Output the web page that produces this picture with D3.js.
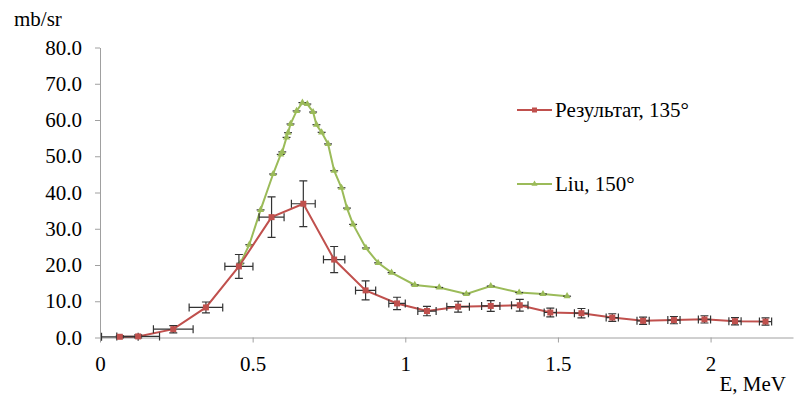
<!DOCTYPE html>
<html>
<head>
  <meta charset="UTF-8" />
  <title>Cross section vs E</title>
  <script src="https://d3js.org/d3.v7.min.js"></script>
  <style>
    body {
      margin: 0;
      background: #fff;
    }

    svg text {
      font-family: "Liberation Serif", "Times New Roman", Tinos, serif !important;
    }
  </style>
</head>
<body>
  <div id="chart"></div>
  <script>
    // Result, 135 deg (red) with errors
    const redE = [0.065, 0.125, 0.24, 0.347, 0.455, 0.562, 0.666, 0.767, 0.87, 0.973, 1.071,
      1.173, 1.28, 1.375, 1.475, 1.577, 1.678, 1.779, 1.88, 1.98, 2.08, 2.18];
    const redY = [0.2, 0.3, 2.3, 8.3, 19.6, 33.2, 36.9, 21.5, 13.0, 9.4, 7.3,
      8.5, 8.7, 8.9, 6.9, 6.7, 5.5, 4.6, 4.8, 5.0, 4.5, 4.4];
    const redXErr = [0.06, 0.07, 0.065, 0.055, 0.046, 0.041, 0.039, 0.035, 0.033, 0.027, 0.03,
      0.037, 0.03, 0.027, 0.02, 0.023, 0.02, 0.02, 0.02, 0.02, 0.02, 0.02];
    const redYErr = [0.3, 0.4, 1.0, 1.5, 3.3, 5.6, 6.3, 3.6, 2.6, 1.7, 1.3,
      1.5, 1.5, 1.6, 1.2, 1.3, 1.05, 1.0, 1.0, 1.0, 1.0, 1.0];

    // Liu, 150 deg (green)
    const greenE = [0.46, 0.489, 0.526, 0.567, 0.592, 0.597, 0.611, 0.616, 0.624, 0.644, 0.663,
      0.679, 0.698, 0.709, 0.726, 0.747, 0.767, 0.791, 0.809, 0.829, 0.871, 0.911, 0.955,
      1.031, 1.111, 1.2, 1.28, 1.373, 1.451, 1.53];
    const greenY = [20.5, 25.6, 35.2, 45.1, 50.5, 51.2, 55.2, 56.5, 58.9, 62.5, 64.8,
      64.4, 62.2, 58.7, 56.6, 53.4, 46.0, 41.3, 35.7, 31.2, 24.7, 20.6, 17.9,
      14.5, 13.8, 12.0, 14.2, 12.4, 12.0, 11.4];
    const greenXErr = 0.013;

    const xTicks = [0, 0.5, 1, 1.5, 2];
    const yTicks = [0, 10, 20, 30, 40, 50, 60, 70, 80];

    const width = 794, height = 395;
    const margin = { top: 47.5, right: 1, bottom: 57.5, left: 100 };

    const RED = "#C0504D", GREEN = "#9BBB59", AXIS = "#A0A0A0", ERR = "#333";
    const FONT = "Liberation Serif";
    const FSIZE = 21;

    const svg = d3.select("#chart").append("svg")
      .attr("width", width)
      .attr("height", height);

    const x = d3.scaleLinear()
      .domain([0, 2.27])
      .range([margin.left, width - margin.right]);

    const y = d3.scaleLinear()
      .domain([0, 80])
      .range([height - margin.bottom, margin.top]);

    function styleText(sel) {
      sel.attr("font-family", FONT)
        .style("font-family", "'Liberation Serif', 'Times New Roman', Tinos, serif")
        .attr("font-size", FSIZE)
        .attr("fill", "#000");
    }

    // axes
    svg.append("g")
      .attr("transform", `translate(0,${y(0)})`)
      .call(d3.axisBottom(x).tickValues(xTicks).tickSize(5).tickSizeOuter(0)
        .tickFormat(d => String(d)))
      .call(g => g.attr("font-family", FONT).attr("font-size", FSIZE))
      .call(g => g.select(".domain").attr("stroke", AXIS))
      .call(g => g.selectAll(".tick line").attr("stroke", AXIS))
      .call(g => g.selectAll("text").call(styleText).attr("dy", "1.2em"));

    svg.append("g")
      .attr("transform", `translate(${x(0)},0)`)
      .call(d3.axisLeft(y).tickValues(yTicks).tickSize(5).tickSizeOuter(0)
        .tickFormat(d3.format(".1f")))
      .call(g => g.attr("font-family", FONT).attr("font-size", FSIZE))
      .call(g => g.select(".domain").attr("stroke", AXIS))
      .call(g => g.selectAll(".tick line").attr("stroke", AXIS))
      .call(g => g.selectAll("text").call(styleText).attr("x", -18));

    svg.append("text")
      .call(styleText)
      .attr("x", 14).attr("y", 26)
      .text("mb/sr");

    svg.append("text")
      .call(styleText)
      .attr("x", 786).attr("y", 391)
      .attr("text-anchor", "end")
      .text("E, MeV");

    const red = redE.map((e, i) => ({ e, v: redY[i], dx: redXErr[i], dy: redYErr[i] }));
    const green = greenE.map((e, i) => ({ e, v: greenY[i] }));

    // green series
    svg.append("path")
      .datum(green)
      .attr("fill", "none")
      .attr("stroke", GREEN)
      .attr("stroke-width", 2)
      .attr("d", d3.line().x(d => x(d.e)).y(d => y(d.v)));

    svg.append("g").selectAll("line")
      .data(green)
      .join("line")
      .attr("x1", d => x(d.e - greenXErr))
      .attr("x2", d => x(d.e + greenXErr))
      .attr("y1", d => y(d.v))
      .attr("y2", d => y(d.v))
      .attr("stroke", ERR)
      .attr("stroke-width", 1.2);

    const tri = d3.symbol().type(d3.symbolTriangle).size(22);
    svg.append("g").selectAll("path")
      .data(green)
      .join("path")
      .attr("transform", d => `translate(${x(d.e)},${y(d.v)})`)
      .attr("d", tri)
      .attr("fill", GREEN);

    // red series
    svg.append("path")
      .datum(red)
      .attr("fill", "none")
      .attr("stroke", RED)
      .attr("stroke-width", 2)
      .attr("d", d3.line().x(d => x(d.e)).y(d => y(d.v)));

    const eb = svg.append("g")
      .attr("stroke", ERR)
      .attr("stroke-width", 1.2)
      .attr("fill", "none");
    const cap = 4;
    red.forEach(d => {
      const cx = x(d.e), cy = y(d.v);
      const xl = x(d.e - d.dx), xr = x(d.e + d.dx);
      const yt = y(d.v + d.dy), yb = y(d.v - d.dy);
      eb.append("path").attr("d",
        `M${xl},${cy}H${xr}M${xl},${cy - cap}V${cy + cap}M${xr},${cy - cap}V${cy + cap}` +
        `M${cx},${yt}V${yb}M${cx - cap},${yt}H${cx + cap}M${cx - cap},${yb}H${cx + cap}`);
    });

    svg.append("g").selectAll("rect")
      .data(red)
      .join("rect")
      .attr("x", d => x(d.e) - 3)
      .attr("y", d => y(d.v) - 3)
      .attr("width", 6)
      .attr("height", 6)
      .attr("fill", RED);

    // legend
    const legend = [
      { label: "Результат, 135°", color: RED, sym: "square", y: 110 },
      { label: "Liu, 150°", color: GREEN, sym: "triangle", y: 184 }
    ];
    const lg = svg.append("g");
    legend.forEach(l => {
      lg.append("line")
        .attr("x1", 517).attr("x2", 552)
        .attr("y1", l.y).attr("y2", l.y)
        .attr("stroke", l.color).attr("stroke-width", 2);
      if (l.sym === "square") {
        lg.append("rect")
          .attr("x", 532).attr("y", l.y - 2.5)
          .attr("width", 5).attr("height", 5)
          .attr("fill", l.color);
      } else {
        lg.append("path")
          .attr("transform", `translate(534.5,${l.y})`)
          .attr("d", d3.symbol().type(d3.symbolTriangle).size(16))
          .attr("fill", l.color);
      }
      lg.append("text")
        .call(styleText)
        .attr("x", 555).attr("y", l.y + 6.5)
        .text(l.label);
    });
  </script>
</body>
</html>
